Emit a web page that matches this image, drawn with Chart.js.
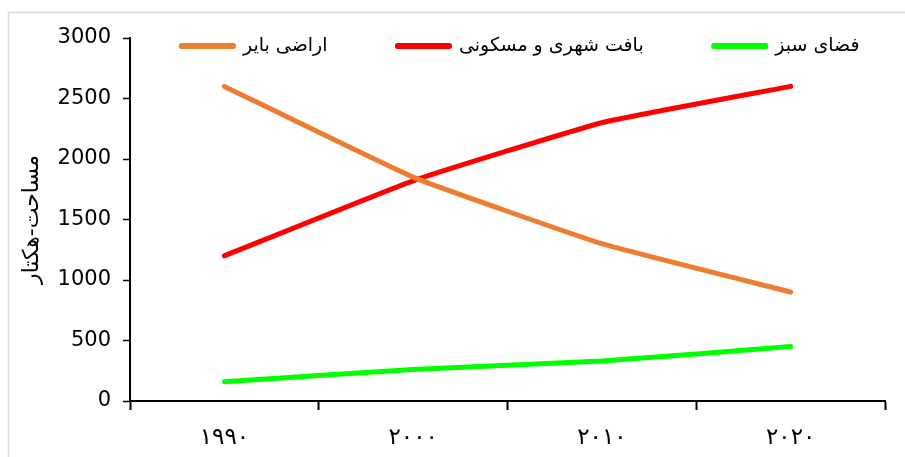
<!DOCTYPE html>
<html>
<head>
<meta charset="utf-8">
<script src="https://cdn.jsdelivr.net/npm/chart.js@4"></script>
<style>
  html, body { margin: 0; padding: 0; background: #fff; }
  #wrap { width: 905px; height: 457px; }
</style>
</head>
<body>
<div id="wrap"><canvas id="landUseChart" width="905" height="457"></canvas></div>
<script>
const years = ['۱۹۹۰', '۲۰۰۰', '۲۰۱۰', '۲۰۲۰'];
const barrenLand = [2600, 1850, 1300, 900];
const urbanFabric = [1200, 1820, 2300, 2600];
const greenSpace = [160, 260, 330, 450];
const yTicks = [0, 500, 1000, 1500, 2000, 2500, 3000];

const legendPad = 70;
const legendSize = 19;

// legend sits inside the plot, so it takes no layout space
const legendInPlot = {
  id: 'legendInPlot',
  beforeInit(chart) {
    const lg = chart.legend;
    const fit = lg.fit.bind(lg);
    lg.fit = function () { fit(); this.realHeight = this.height; this.height = 0; };
  },
  afterLayout(chart) {
    const lg = chart.legend;
    lg.top = 46 - legendPad - legendSize / 2;
    lg.bottom = lg.top + lg.realHeight;
    lg.height = lg.realHeight;
    lg.left += 78;
    lg.right += 78;
  }
};

const frame = {
  id: 'frame',
  beforeDraw(chart) {
    const ctx = chart.ctx;
    ctx.save();
    ctx.strokeStyle = '#d9d9d9';
    ctx.lineWidth = 1.5;
    ctx.strokeRect(8.5, 12.5, 1200, 1200);
    ctx.restore();
  }
};

function line(label, values, color) {
  return {
    label: label,
    data: values,
    borderColor: color,
    backgroundColor: color,
    borderWidth: 5,
    borderCapStyle: 'round',
    borderJoinStyle: 'round',
    pointRadius: 0,
    tension: 0.12,
    fill: false
  };
}

const config = {
  type: 'line',
  data: {
    labels: years,
    datasets: [
      line('اراضی بایر', barrenLand, '#ED7D31'),
      line('بافت شهری و مسکونی', urbanFabric, '#FF0000'),
      line('فضای سبز', greenSpace, '#00FF00')
    ]
  },
  options: {
    responsive: false,
    animation: false,
    layout: { padding: { left: 0, right: 20, top: 38, bottom: 0 } },
    plugins: {
      legend: {
        position: 'top',
        labels: {
          boxWidth: 52,
          boxHeight: 1,
          padding: legendPad,
          color: '#000',
          font: { family: 'DejaVu Sans', size: legendSize }
        }
      },
      tooltip: { enabled: false }
    },
    scales: {
      x: {
        offset: true,
        grid: {
          offset: true,
          drawOnChartArea: false,
          tickLength: 9,
          tickWidth: 2,
          color: '#000'
        },
        border: { color: '#000', width: 2 },
        ticks: {
          color: '#000',
          padding: 14,
          font: { family: 'DejaVu Sans', size: 23 }
        },
        afterFit(scale) { scale.height = 56; }
      },
      y: {
        min: 0,
        max: 3000,
        afterBuildTicks(scale) { scale.ticks = yTicks.map(v => ({ value: v })); },
        grid: {
          drawOnChartArea: false,
          tickLength: 7,
          tickWidth: 1.5,
          color: '#000'
        },
        border: { color: '#000', width: 2 },
        ticks: {
          color: '#000',
          padding: 12,
          font: { family: 'DejaVu Sans', size: 21 },
          callback: v => String(v)
        },
        title: {
          display: true,
          text: 'مساحت-هکتار',
          color: '#000',
          padding: { top: 19, bottom: 0 },
          font: { family: 'DejaVu Sans', size: 22 }
        },
        afterFit(scale) { scale.width = 130; }
      }
    }
  },
  plugins: [legendInPlot, frame]
};

new Chart(document.getElementById('landUseChart'), config);
</script>
</body>
</html>
